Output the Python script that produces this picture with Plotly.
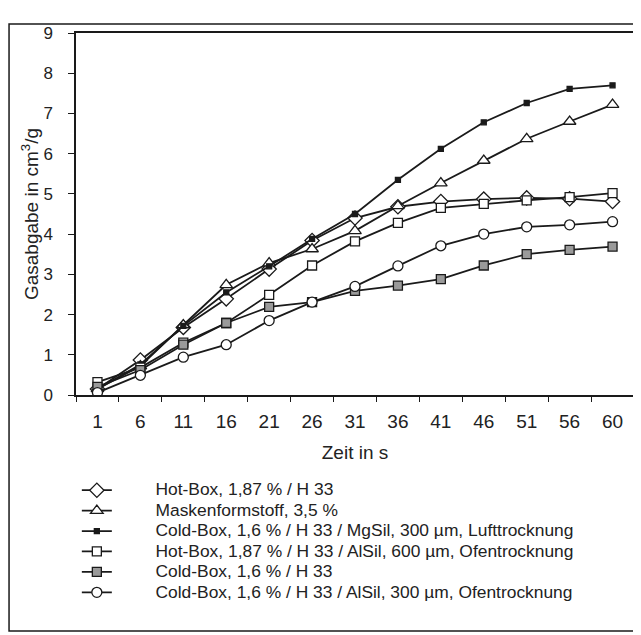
import plotly.graph_objects as go

zeit = ["1", "6", "11", "16", "21", "26", "31", "36", "41", "46", "51", "56", "60"]

hot_box = [0.15, 0.87, 1.68, 2.39, 3.13, 3.84, 4.40, 4.68, 4.81, 4.87, 4.90, 4.88, 4.81]
maskenformstoff = [0.15, 0.72, 1.74, 2.74, 3.28, 3.63, 4.08, 4.70, 5.27, 5.83, 6.37, 6.80, 7.22]
cold_box_mgsil = [0.15, 0.76, 1.72, 2.55, 3.20, 3.88, 4.50, 5.35, 6.12, 6.78, 7.26, 7.61, 7.70]
hot_box_alsil = [0.32, 0.68, 1.30, 1.79, 2.49, 3.22, 3.82, 4.28, 4.65, 4.75, 4.84, 4.92, 5.02]
cold_box = [0.20, 0.62, 1.25, 1.79, 2.19, 2.31, 2.59, 2.72, 2.88, 3.22, 3.50, 3.61, 3.69]
cold_box_alsil = [0.06, 0.49, 0.94, 1.25, 1.85, 2.31, 2.70, 3.21, 3.71, 4.00, 4.18, 4.23, 4.31]

names = [
    "Hot-Box, 1,87 % / H 33",
    "Maskenformstoff, 3,5 %",
    "Cold-Box, 1,6 % / H 33 / MgSil, 300 µm, Lufttrocknung",
    "Hot-Box, 1,87 % / H 33 / AlSil, 600 µm, Ofentrocknung",
    "Cold-Box, 1,6 % / H 33",
    "Cold-Box, 1,6 % / H 33 / AlSil, 300 µm, Ofentrocknung",
]
series = [hot_box, maskenformstoff, cold_box_mgsil, hot_box_alsil, cold_box, cold_box_alsil]

end_labels = ["7,7", "7,2", "5,0", "4,3", "3,7"]
end_series = [cold_box_mgsil, maskenformstoff, hot_box_alsil, cold_box_alsil, cold_box]
end_shift = [20, -20, 16, -14, -14]

ink = "#1a1a1a"
styles = [
    dict(symbol="diamond", size=11, color="white"),
    dict(symbol="triangle-up", size=11, color="white"),
    dict(symbol="square", size=5, color=ink),
    dict(symbol="square", size=9, color="white"),
    dict(symbol="square", size=9, color="#9a9a9a"),
    dict(symbol="circle", size=10, color="white"),
]

pad = "&nbsp;" * 8

fig = go.Figure()
for nm, ys, st in zip(names, series, styles):
    fig.add_trace(go.Scatter(
        x=zeit, y=ys, mode="lines+markers",
        name=f'<span style="font-size:17.4px">{pad}{nm}</span>',
        line=dict(color=ink, width=1.8),
        marker=dict(symbol=st["symbol"], size=st["size"], color=st["color"],
                    line=dict(color=ink, width=1.3)),
    ))

for lab, ys, sh in zip(end_labels, end_series, end_shift):
    fig.add_annotation(x=zeit[-1], y=ys[-1], text=lab, showarrow=False,
                       yshift=sh, xshift=2,
                       font=dict(size=12, color="#444", family="Liberation Sans, Arial"))

# outer frame
fig.add_shape(type="rect", xref="paper", yref="paper",
              x0=-0.120, x1=1.007, y0=-0.652, y1=1.025,
              line=dict(color=ink, width=1.5), layer="below")

fig.update_layout(
    width=641, height=635,
    margin=dict(l=68, r=15, t=25, b=248),
    paper_bgcolor="white", plot_bgcolor="white",
    font=dict(family="Liberation Sans, Arial", color=ink),
    showlegend=True,
    legend=dict(x=0.0015, y=-0.221, xanchor="left", yanchor="top",
                font=dict(size=13.4, color="#222"),
                bgcolor="rgba(0,0,0,0)"),
    xaxis=dict(type="category", tickson="boundaries", ticks="outside", ticklen=5,
               tickcolor=ink, showline=True, linecolor=ink, linewidth=1.5, mirror=True,
               showgrid=False, tickfont=dict(size=19, color="#222"),
               ticklabelstandoff=8, automargin=False,
               title=dict(text="Zeit in s", font=dict(size=19, color="#222"), standoff=15),
               range=[-0.5, 12.5]),
    yaxis=dict(range=[0, 9], dtick=1, ticks="outside", ticklen=6, tickcolor=ink,
               showline=True, linecolor=ink, linewidth=1.5, mirror=True, showgrid=False,
               zeroline=False, tickfont=dict(size=17, color="#222"),
               ticklabelstandoff=12, automargin=False,
               title=dict(text="Gasabgabe in cm<sup>3</sup>/g", font=dict(size=19, color="#222"),
                          standoff=0)),
)

fig.write_html("out.html")
